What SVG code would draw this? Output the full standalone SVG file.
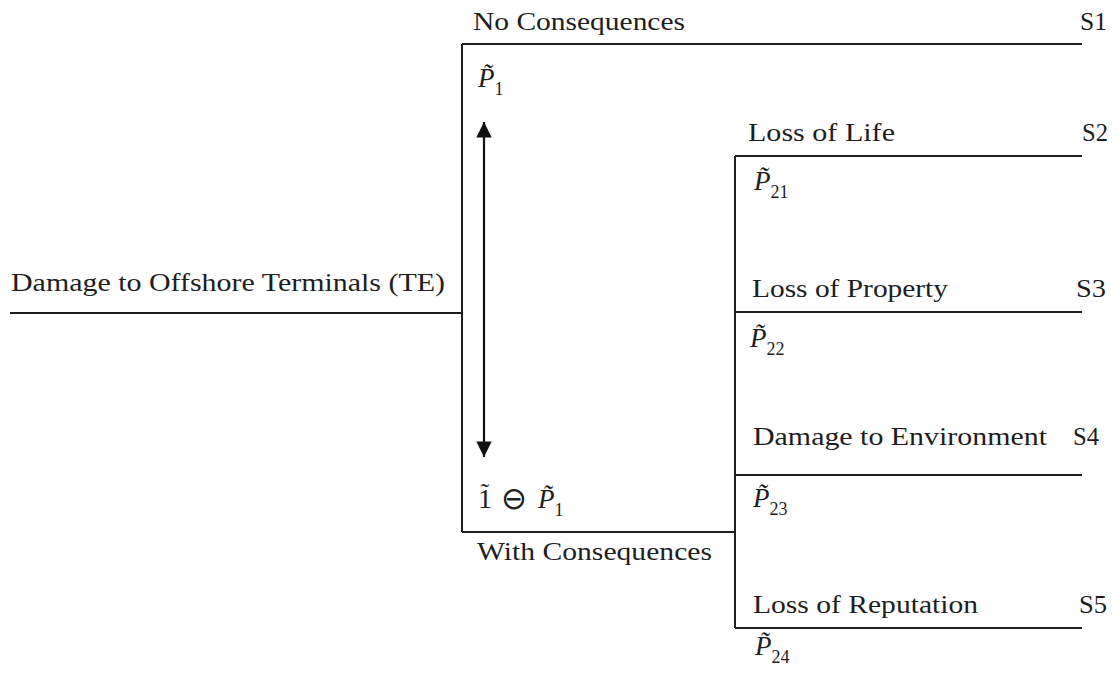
<svg xmlns="http://www.w3.org/2000/svg" width="1118" height="675" viewBox="0 0 1118 675">
  <style>
    text { fill: #1e1e1e; }
    .lbl { font-size: 26px; }
    .p { font-style: italic; font-size: 27px; }
    .sub { font-size: 18px; }
    .ln { stroke: #1e1e1e; stroke-width: 2; fill: none; }
  </style>
  <defs>
    <marker id="head" viewBox="0 0 10 10" refX="10" refY="5" markerWidth="7.5" markerHeight="7" markerUnits="strokeWidth" orient="auto-start-reverse">
      <path d="M0,0 L10,5 L0,10 z" fill="#111"/>
    </marker>
  </defs>
  <rect width="1118" height="675" fill="#ffffff"/>

  <!-- tree branches -->
  <g id="connectors">
    <path class="ln" d="M10,313 H462"/>
    <path class="ln" d="M462,44 V532"/>
    <path class="ln" d="M462,44 H1082"/>
    <path class="ln" d="M462,532 H735"/>
    <path class="ln" d="M735,156 V628"/>
    <path class="ln" d="M735,156 H1082"/>
    <path class="ln" d="M735,312 H1082"/>
    <path class="ln" d="M735,475 H1082"/>
    <path class="ln" d="M735,628 H1082"/>
    <path d="M484,122 V457" stroke="#111" stroke-width="2.2" marker-start="url(#head)" marker-end="url(#head)"/>
  </g>

  <g font-family="'Liberation Serif', Tinos, 'Times New Roman', Times, serif">
    <g id="top-event">
      <text class="lbl" x="11" y="291" textLength="434" lengthAdjust="spacingAndGlyphs">Damage to Offshore Terminals (TE)</text>
    </g>

    <g id="no-consequences">
      <text class="lbl" x="473" y="30" textLength="212" lengthAdjust="spacingAndGlyphs">No Consequences</text>
      <text class="lbl" x="1080" y="30" textLength="27" lengthAdjust="spacingAndGlyphs">S1</text>
      <text x="478" y="87"><tspan class="p">P̃</tspan><tspan class="sub" dy="8">1</tspan></text>
    </g>

    <g id="with-consequences">
      <text class="lbl" x="477" y="560" textLength="235" lengthAdjust="spacingAndGlyphs">With Consequences</text>
      <text x="478" y="508" font-size="28">1<tspan dx="-11.5" dy="-7" font-size="26">˜</tspan></text>
      <text x="501" y="509" font-family="'DejaVu Sans', sans-serif" font-size="31">⊖</text>
      <text x="538" y="508"><tspan class="p">P̃</tspan><tspan class="sub" dy="8">1</tspan></text>
    </g>

    <g id="loss-of-life">
      <text class="lbl" x="748" y="141" textLength="147" lengthAdjust="spacingAndGlyphs">Loss of Life</text>
      <text class="lbl" x="1082" y="141" textLength="26" lengthAdjust="spacingAndGlyphs">S2</text>
      <text x="754" y="190"><tspan class="p">P̃</tspan><tspan class="sub" dy="8">21</tspan></text>
    </g>

    <g id="loss-of-property">
      <text class="lbl" x="752" y="297" textLength="196" lengthAdjust="spacingAndGlyphs">Loss of Property</text>
      <text class="lbl" x="1076" y="297" textLength="30" lengthAdjust="spacingAndGlyphs">S3</text>
      <text x="750" y="347"><tspan class="p">P̃</tspan><tspan class="sub" dy="8">22</tspan></text>
    </g>

    <g id="damage-to-environment">
      <text class="lbl" x="753" y="445" textLength="294" lengthAdjust="spacingAndGlyphs">Damage to Environment</text>
      <text class="lbl" x="1073" y="445" textLength="26" lengthAdjust="spacingAndGlyphs">S4</text>
      <text x="753" y="507"><tspan class="p">P̃</tspan><tspan class="sub" dy="8">23</tspan></text>
    </g>

    <g id="loss-of-reputation">
      <text class="lbl" x="753" y="613" textLength="225" lengthAdjust="spacingAndGlyphs">Loss of Reputation</text>
      <text class="lbl" x="1079" y="613" textLength="28" lengthAdjust="spacingAndGlyphs">S5</text>
      <text x="755" y="655"><tspan class="p">P̃</tspan><tspan class="sub" dy="8">24</tspan></text>
    </g>
  </g>
</svg>
